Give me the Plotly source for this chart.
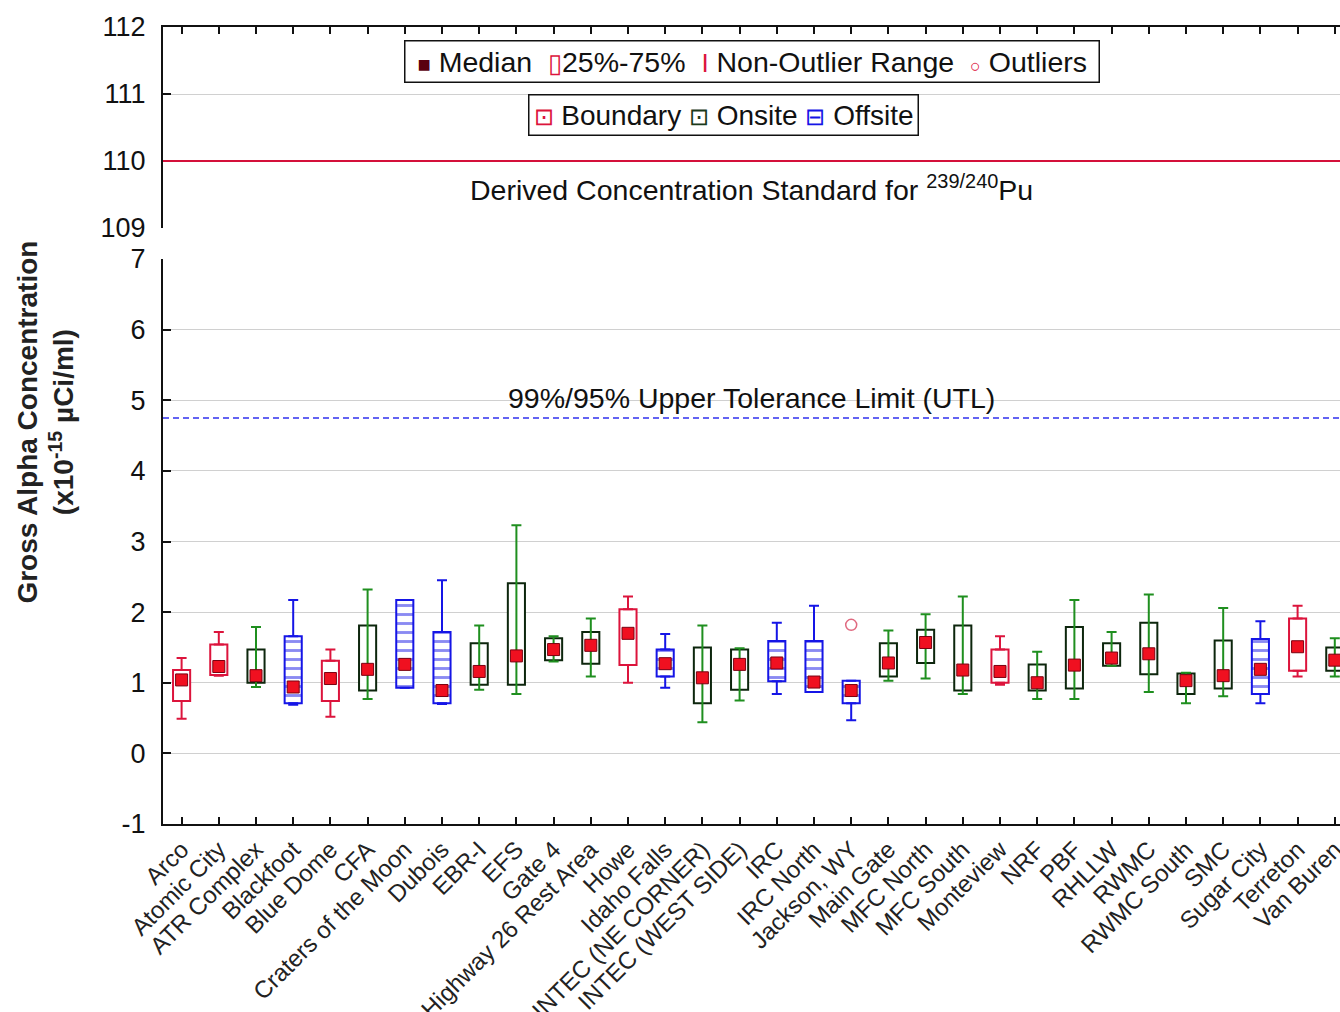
import plotly.graph_objects as go

# Sampling locations and their classification
sites = ["Arco", "Atomic City", "ATR Complex", "Blackfoot", "Blue Dome", "CFA",
         "Craters of the Moon", "Dubois", "EBR-I", "EFS", "Gate 4",
         "Highway 26 Rest Area", "Howe", "Idaho Falls", "INTEC (NE CORNER)",
         "INTEC (WEST SIDE)", "IRC", "IRC North", "Jackson, WY", "Main Gate",
         "MFC North", "MFC South", "Monteview", "NRF", "PBF", "RHLLW", "RWMC",
         "RWMC South", "SMC", "Sugar City", "Terreton", "Van Buren"]
site_type = ["Boundary", "Boundary", "Onsite", "Offsite", "Boundary", "Onsite",
             "Offsite", "Offsite", "Onsite", "Onsite", "Onsite",
             "Onsite", "Boundary", "Offsite", "Onsite",
             "Onsite", "Offsite", "Offsite", "Offsite", "Onsite",
             "Onsite", "Onsite", "Boundary", "Onsite", "Onsite", "Onsite", "Onsite",
             "Onsite", "Onsite", "Offsite", "Boundary", "Onsite"]

# Gross alpha box statistics (x10^-15 uCi/ml)
whisker_low = [0.49, 1.10, 0.94, 0.69, 0.52, 0.77, 0.93, 0.70, 0.90, 0.84, 1.30,
               1.09, 1.00, 0.93, 0.44, 0.75, 0.84, 0.87, 0.47, 1.03, 1.06, 0.84,
               0.97, 0.77, 0.77, 1.24, 0.87, 0.71, 0.81, 0.71, 1.09, 1.09]
q1 = [0.74, 1.11, 1.00, 0.71, 0.74, 0.89, 0.93, 0.71, 0.97, 0.97, 1.32,
      1.27, 1.25, 1.09, 0.71, 0.90, 1.02, 0.87, 0.71, 1.09, 1.28, 0.89,
      1.00, 0.89, 0.92, 1.24, 1.12, 0.84, 0.92, 0.84, 1.17, 1.17]
median = [1.04, 1.23, 1.10, 0.94, 1.06, 1.19, 1.26, 0.89, 1.16, 1.38, 1.47,
          1.53, 1.70, 1.27, 1.07, 1.26, 1.28, 1.01, 0.89, 1.28, 1.57, 1.18,
          1.16, 1.00, 1.25, 1.35, 1.41, 1.03, 1.10, 1.19, 1.51, 1.32]
q3 = [1.18, 1.54, 1.47, 1.66, 1.31, 1.81, 2.17, 1.72, 1.56, 2.41, 1.63,
      1.72, 2.04, 1.47, 1.50, 1.47, 1.59, 1.59, 1.03, 1.56, 1.75, 1.81,
      1.47, 1.26, 1.79, 1.56, 1.85, 1.13, 1.60, 1.62, 1.91, 1.50]
whisker_high = [1.35, 1.72, 1.79, 2.17, 1.47, 2.32, 2.17, 2.45, 1.81, 3.23, 1.66,
                1.91, 2.22, 1.69, 1.81, 1.49, 1.85, 2.09, 1.03, 1.74, 1.97, 2.22,
                1.66, 1.44, 2.17, 1.72, 2.25, 1.14, 2.06, 1.87, 2.09, 1.63]

outlier_sites = ["Jackson, WY"]
outlier_values = [1.82]

# Reference levels
DCS = 110.0   # Derived Concentration Standard for 239/240Pu
UTL = 4.75    # 99%/95% upper tolerance limit

# Tick labels of the lower panel (plain hyphen for the negative value)
lower_ticks = [-1, 0, 1, 2, 3, 4, 5, 6, 7]
lower_tick_text = ["-1", "0", "1", "2", "3", "4", "5", "6", "7"]

RED = "#dc143c"
ONSITE_BOX = "#0d260d"
ONSITE_WHISKER = "#1f8f1f"
BLUE = "#1515e6"
FONT = "Liberation Sans, Arial, sans-serif"

style = {
    "Boundary": dict(box=RED, whisker=RED, pattern=""),
    "Onsite": dict(box=ONSITE_BOX, whisker=ONSITE_WHISKER, pattern=""),
    "Offsite": dict(box=BLUE, whisker=BLUE, pattern="-"),
}

fig = go.Figure()

# Interquartile boxes
for group, st in style.items():
    idx = [i for i, t in enumerate(site_type) if t == group]
    fig.add_trace(go.Bar(
        x=[sites[i] for i in idx],
        base=[q1[i] for i in idx],
        y=[q3[i] - q1[i] for i in idx],
        width=0.46,
        marker=dict(color="white", line=dict(color=st["box"], width=2),
                    pattern=dict(shape=st["pattern"], fgcolor=st["box"],
                                 bgcolor="white", size=9, solidity=0.32)),
        name=group, showlegend=False, hoverinfo="skip",
        xaxis="x", yaxis="y",
    ))

# Whiskers (non-outlier range)
for group, st in style.items():
    idx = [i for i, t in enumerate(site_type) if t == group]
    xs = [sites[i] for i in idx]
    if group == "Onsite":
        fig.add_trace(go.Scatter(
            x=xs, y=[median[i] for i in idx], mode="markers",
            marker=dict(size=1, opacity=0),
            error_y=dict(type="data", symmetric=False,
                         array=[whisker_high[i] - median[i] for i in idx],
                         arrayminus=[median[i] - whisker_low[i] for i in idx],
                         color=st["whisker"], thickness=2, width=5),
            showlegend=False, hoverinfo="skip", xaxis="x", yaxis="y"))
    else:
        fig.add_trace(go.Scatter(
            x=xs, y=[q3[i] for i in idx], mode="markers",
            marker=dict(size=1, opacity=0),
            error_y=dict(type="data", symmetric=False,
                         array=[whisker_high[i] - q3[i] for i in idx],
                         arrayminus=[0] * len(idx),
                         color=st["whisker"], thickness=2, width=5),
            showlegend=False, hoverinfo="skip", xaxis="x", yaxis="y"))
        fig.add_trace(go.Scatter(
            x=xs, y=[q1[i] for i in idx], mode="markers",
            marker=dict(size=1, opacity=0),
            error_y=dict(type="data", symmetric=False,
                         array=[0] * len(idx),
                         arrayminus=[q1[i] - whisker_low[i] for i in idx],
                         color=st["whisker"], thickness=2, width=5),
            showlegend=False, hoverinfo="skip", xaxis="x", yaxis="y"))

# Medians
fig.add_trace(go.Scatter(
    x=sites, y=median, mode="markers",
    marker=dict(symbol="square", size=12, color="#f01020",
                line=dict(color="#7a0010", width=1)),
    name="Median", showlegend=False, xaxis="x", yaxis="y"))

# Outliers
fig.add_trace(go.Scatter(
    x=outlier_sites, y=outlier_values, mode="markers",
    marker=dict(symbol="circle-open", size=11, color="#e06a80",
                line=dict(width=1.5)),
    name="Outliers", showlegend=False, xaxis="x", yaxis="y"))

# Invisible anchor so the upper panel shares the category ticks
fig.add_trace(go.Scatter(
    x=sites, y=[DCS] * len(sites), mode="markers",
    marker=dict(size=1, opacity=0), showlegend=False, hoverinfo="skip",
    xaxis="x2", yaxis="y2"))

# Reference lines
fig.add_shape(type="line", xref="x2 domain", x0=0, x1=1, yref="y2", y0=DCS, y1=DCS,
              line=dict(color="#d4103a", width=2))
fig.add_shape(type="line", xref="x domain", x0=0, x1=1, yref="y", y0=UTL, y1=UTL,
              line=dict(color="#3030ee", width=1.5, dash="6px,4px"))

fig.add_annotation(xref="paper", x=0.5, yref="y2", y=DCS, yanchor="top", yshift=-7,
                   showarrow=False,
                   text="Derived Concentration Standard for <sup>239/240</sup>Pu",
                   font=dict(size=28.5, color="#111"))
fig.add_annotation(xref="paper", x=0.5, yref="y", y=UTL, yanchor="bottom", yshift=2,
                   showarrow=False,
                   text="99%/95% Upper Tolerance Limit (UTL)",
                   font=dict(size=28.5, color="#111"))

# Legend boxes
legend1 = (' <span style="color:#5a0010;font-size:22px">■</span> Median  '
           '<span style="color:#dc143c;font-size:26px">▯</span>25%-75%  '
           '<span style="color:#dc143c;font-size:26px">I</span> Non-Outlier Range  '
           '<span style="color:#dc143c;font-size:18px">○</span> Outliers ')
legend2 = ('<span style="color:#dc143c;font-size:24px">⊡</span> Boundary '
           '<span style="color:#1a3a1a;font-size:24px">⊡</span> Onsite '
           '<span style="color:#1515e6;font-size:24px">⊟</span> Offsite')
fig.add_annotation(xref="paper", x=0.5, yref="y2", y=111.48, yanchor="middle",
                   showarrow=False, text=legend1, font=dict(size=28.5, color="#111"),
                   bordercolor="#111", borderwidth=1.5, borderpad=4, bgcolor="white")
fig.add_annotation(xref="paper", x=0.476, yref="y2", y=110.69, yanchor="middle",
                   showarrow=False, text=legend2, font=dict(size=28, color="#111"),
                   bordercolor="#111", borderwidth=1.5, borderpad=4, bgcolor="white")

# Axis title
fig.add_annotation(xref="paper", x=-0.1, yref="paper", y=0.504, textangle=-90,
                   showarrow=False, xanchor="center", yanchor="middle",
                   text="<b>Gross Alpha Concentration</b><br><b>(x10<sup>-15</sup> µCi/ml)</b>",
                   font=dict(size=28, color="#222"))

axis_common = dict(showline=True, linecolor="#111", linewidth=2,
                   ticks="inside", tickcolor="#111", tickwidth=1.5)

fig.update_layout(
    width=1340, height=1012,
    margin=dict(l=163, r=0, t=27, b=188),
    paper_bgcolor="white", plot_bgcolor="white",
    font=dict(family=FONT, color="#111"),
    barmode="overlay",
    showlegend=False,
    xaxis=dict(domain=[0, 1], anchor="y", type="category",
               categoryorder="array", categoryarray=sites,
               range=[-0.5, 31.14], ticklen=7, tickangle=-45,
               tickfont=dict(size=24, color="#222"), showgrid=False,
               automargin=False, **axis_common),
    xaxis2=dict(domain=[0, 1], anchor="y2", matches="x", side="top",
                showticklabels=False, ticklen=7, showgrid=False,
                **axis_common),
    yaxis=dict(domain=[0, 0.7089], anchor="x", range=[-1, 7],
               tickmode="array", tickvals=lower_ticks, ticktext=lower_tick_text,
               ticklen=8, tickfont=dict(size=27), gridcolor="#d0d0d0",
               zeroline=False, ticklabelstandoff=10, automargin=False,
               **axis_common),
    yaxis2=dict(domain=[0.7478, 1], anchor="x2", range=[109, 112], dtick=1,
                ticklen=8, tickfont=dict(size=27), gridcolor="#d0d0d0",
                zeroline=False, ticklabelstandoff=10, automargin=False,
                **axis_common),
)

fig.write_html("out.html")
